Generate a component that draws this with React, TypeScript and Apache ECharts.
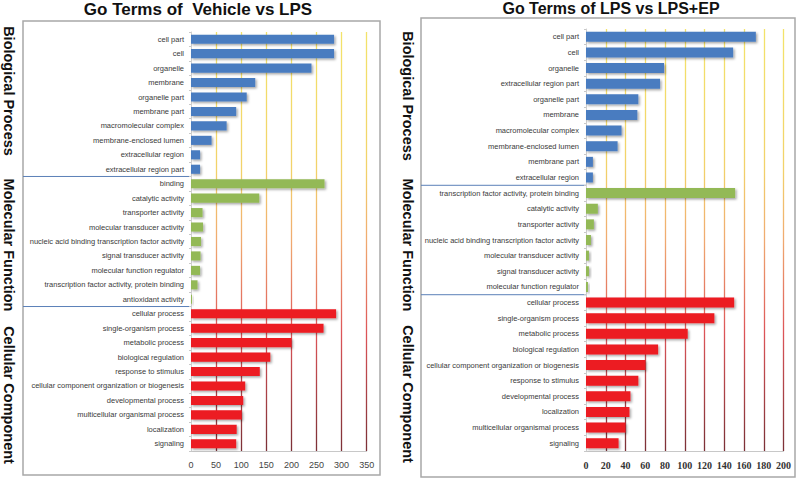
import React, { useEffect, useRef } from "react";
import * as echarts from "echarts";

// ---------- Data: left panel (Vehicle vs LPS) ----------
const leftBlueCats = ["cell part", "cell", "organelle", "membrane", "organelle part", "membrane part", "macromolecular complex", "membrane-enclosed lumen", "extracellular region", "extracellular region part"];
const leftBlueVals = [285, 285, 240, 128, 111, 90, 71, 41, 18, 18];
const leftGreenCats = ["binding", "catalytic activity", "transporter activity", "molecular transducer activity", "nucleic acid binding transcription factor activity", "signal transducer activity", "molecular function regulator", "transcription factor activity, protein binding", "antioxidant activity"];
const leftGreenVals = [266, 136, 23, 24, 20, 19, 18, 13, 2];
const leftRedCats = ["cellular process", "single-organism process", "metabolic process", "biological regulation", "response to stimulus", "cellular component organization or biogenesis", "developmental process", "multicellular organismal process", "localization", "signaling"];
const leftRedVals = [289, 264, 200, 158, 137, 108, 104, 101, 91, 90];
const leftTicks = [0, 50, 100, 150, 200, 250, 300, 350];

// ---------- Data: right panel (LPS vs LPS+EP) ----------
const rightBlueCats = ["cell part", "cell", "organelle", "extracellular region part", "organelle part", "membrane", "macromolecular complex", "membrane-enclosed lumen", "membrane part", "extracellular region"];
const rightBlueVals = [172, 149, 79, 75, 53, 52, 36, 32, 7, 7];
const rightGreenCats = ["transcription factor activity, protein binding", "catalytic activity", "transporter activity", "nucleic acid binding transcription factor activity", "molecular transducer activity", "signal transducer activity", "molecular function regulator"];
const rightGreenVals = [151, 12, 8, 5, 3, 3, 2];
const rightRedCats = ["cellular process", "single-organism process", "metabolic process", "biological regulation", "cellular component organization or biogenesis", "response to stimulus", "developmental process", "localization", "multicellular organismal process", "signaling"];
const rightRedVals = [150, 130, 103, 73, 60, 53, 45, 44, 40, 33];
const rightTicks = [0, 20, 40, 60, 80, 100, 120, 140, 160, 180, 200];

const sectionTitles = ["Biological Process", "Molecular Function", "Cellular Component"];
const panelTitles = ["Go Terms of  Vehicle vs LPS", "Go Terms of LPS vs LPS+EP"];

const BLUE = "#4a7cc0";
const GREEN = "#93b957";
const RED = "#ec1c24";

function buildItems(groups: { vals: number[]; color: string }[]) {
  const out: any[] = [];
  groups.forEach((g) =>
    g.vals.forEach((v) => out.push({ value: v, itemStyle: { color: g.color } }))
  );
  return out;
}

export default function App() {
  const ref = useRef<HTMLDivElement>(null);

  useEffect(() => {
    if (!ref.current) return;
    const chart = echarts.init(ref.current, null, { renderer: "svg" });

    const L = { left: 191, width: 175.7, top: 32, height: 419 };
    const R = { left: 586, width: 197.5, top: 29, height: 422 };

    const leftCats = [...leftBlueCats, ...leftGreenCats, ...leftRedCats];
    const rightCats = [...rightBlueCats, ...rightGreenCats, ...rightRedCats];
    const leftData = buildItems([
      { vals: leftBlueVals, color: BLUE },
      { vals: leftGreenVals, color: GREEN },
      { vals: leftRedVals, color: RED },
    ]);
    const rightData = buildItems([
      { vals: rightBlueVals, color: BLUE },
      { vals: rightGreenVals, color: GREEN },
      { vals: rightRedVals, color: RED },
    ]);

    const gridGradient = (top: number, h: number) =>
      new echarts.graphic.LinearGradient(
        0, top, 0, top + h,
        [
          { offset: 0, color: "#f3e36a" },
          { offset: 0.33, color: "#f2d26a" },
          { offset: 0.5, color: "#f0aa70" },
          { offset: 0.72, color: "#dd5458" },
          { offset: 1, color: "#7a3036" },
        ],
        true
      );

    const lRow = L.height / leftCats.length;
    const rRow = R.height / rightCats.length;
    const sepL1 = L.top + lRow * leftBlueCats.length;
    const sepL2 = L.top + lRow * (leftBlueCats.length + leftGreenCats.length);
    const sepR1 = R.top + rRow * rightBlueCats.length;
    const sepR2 = R.top + rRow * (rightBlueCats.length + rightGreenCats.length);

    const catLabel = {
      fontFamily: "'Liberation Sans', Arial, sans-serif",
      fontSize: 7.5,
      color: "#3a3a3a",
      margin: 7,
    };

    const sideText = (x: number, y: number, t: string) => ({
      type: "text",
      x,
      y,
      rotation: -Math.PI / 2,
      style: {
        text: t,
        fontFamily: "'Liberation Sans', Arial, sans-serif",
        fontWeight: "bold",
        fontSize: 14.5,
        fill: "#111",
        align: "center",
        verticalAlign: "middle",
      },
    });

    const sepLine = (x1: number, x2: number, y: number) => ({
      type: "line",
      shape: { x1, y1: y, x2, y2: y },
      style: { stroke: "#5b80b8", lineWidth: 1 },
    });

    const titleText = (x: number, y: number, t: string, size: number) => ({
      type: "text",
      x,
      y,
      style: {
        text: t,
        fontFamily: "'Liberation Sans', Arial, sans-serif",
        fontWeight: "bold",
        fontSize: size,
        fill: "#111",
        align: "center",
        verticalAlign: "middle",
      },
    });

    chart.setOption({
      animation: false,
      backgroundColor: "#ffffff",
      grid: [
        { left: L.left, width: L.width, top: L.top, height: L.height },
        { left: R.left, width: R.width, top: R.top, height: R.height },
      ],
      xAxis: [
        {
          gridIndex: 0,
          type: "value",
          min: leftTicks[0],
          max: leftTicks[leftTicks.length - 1],
          interval: leftTicks[1] - leftTicks[0],
          axisLine: { show: true, lineStyle: { color: "#c8c8c8" } },
          axisTick: { show: false },
          axisLabel: {
            fontFamily: "'Liberation Sans', Arial, sans-serif",
            fontSize: 9,
            color: "#444",
            margin: 9,
          },
          splitLine: {
            show: true,
            showMinLine: false,
            lineStyle: { color: gridGradient(L.top, L.height), width: 1.3 },
          },
        },
        {
          gridIndex: 1,
          type: "value",
          min: rightTicks[0],
          max: rightTicks[rightTicks.length - 1],
          interval: rightTicks[1] - rightTicks[0],
          axisLine: { show: true, lineStyle: { color: "#c8c8c8" } },
          axisTick: { show: false },
          axisLabel: {
            fontFamily: "'Liberation Serif', 'Times New Roman', serif",
            fontWeight: "bold",
            fontSize: 10,
            color: "#333",
            margin: 9,
          },
          splitLine: {
            show: true,
            showMinLine: false,
            lineStyle: { color: gridGradient(R.top, R.height), width: 1.3 },
          },
        },
      ],
      yAxis: [
        {
          gridIndex: 0,
          type: "category",
          inverse: true,
          data: leftCats,
          axisLine: { show: true, lineStyle: { color: "#d0d0d0" } },
          axisTick: { show: true, length: 2, lineStyle: { color: "#c8c8c8" } },
          axisLabel: { ...catLabel, interval: 0 },
        },
        {
          gridIndex: 1,
          type: "category",
          inverse: true,
          data: rightCats,
          axisLine: { show: true, lineStyle: { color: "#d0d0d0" } },
          axisTick: { show: true, length: 2, lineStyle: { color: "#c8c8c8" } },
          axisLabel: { ...catLabel, interval: 0 },
        },
      ],
      series: [
        {
          type: "bar",
          xAxisIndex: 0,
          yAxisIndex: 0,
          data: leftData,
          barCategoryGap: "37%",
          itemStyle: {
            shadowColor: "rgba(0,0,0,0.35)",
            shadowBlur: 2,
            shadowOffsetX: 1.5,
            shadowOffsetY: 1.5,
          },
        },
        {
          type: "bar",
          xAxisIndex: 1,
          yAxisIndex: 1,
          data: rightData,
          barCategoryGap: "36%",
          itemStyle: {
            shadowColor: "rgba(0,0,0,0.35)",
            shadowBlur: 2,
            shadowOffsetX: 1.5,
            shadowOffsetY: 1.5,
          },
        },
      ],
      graphic: [
        {
          type: "rect",
          shape: { x: 23, y: 21, width: 357, height: 454 },
          style: { fill: "none", stroke: "#a8a8a8", lineWidth: 1.5 },
        },
        {
          type: "rect",
          shape: { x: 421, y: 18, width: 374, height: 459 },
          style: { fill: "none", stroke: "#a8a8a8", lineWidth: 1.5 },
        },
        titleText(198, 9, panelTitles[0], 17),
        titleText(611, 8, panelTitles[1], 16),
        sideText(9, 91, sectionTitles[0]),
        sideText(9, 245, sectionTitles[1]),
        sideText(9, 395, sectionTitles[2]),
        sideText(408, 96, sectionTitles[0]),
        sideText(408, 245, sectionTitles[1]),
        sideText(408, 394, sectionTitles[2]),
        sepLine(23, L.left, sepL1),
        sepLine(23, L.left, sepL2),
        sepLine(421, R.left, sepR1),
        sepLine(421, R.left, sepR2),
      ],
    });

    return () => chart.dispose();
  }, []);

  return (
    <div
      ref={ref}
      style={{ position: "fixed", left: 0, top: 0, width: 800, height: 479 }}
    />
  );
}
